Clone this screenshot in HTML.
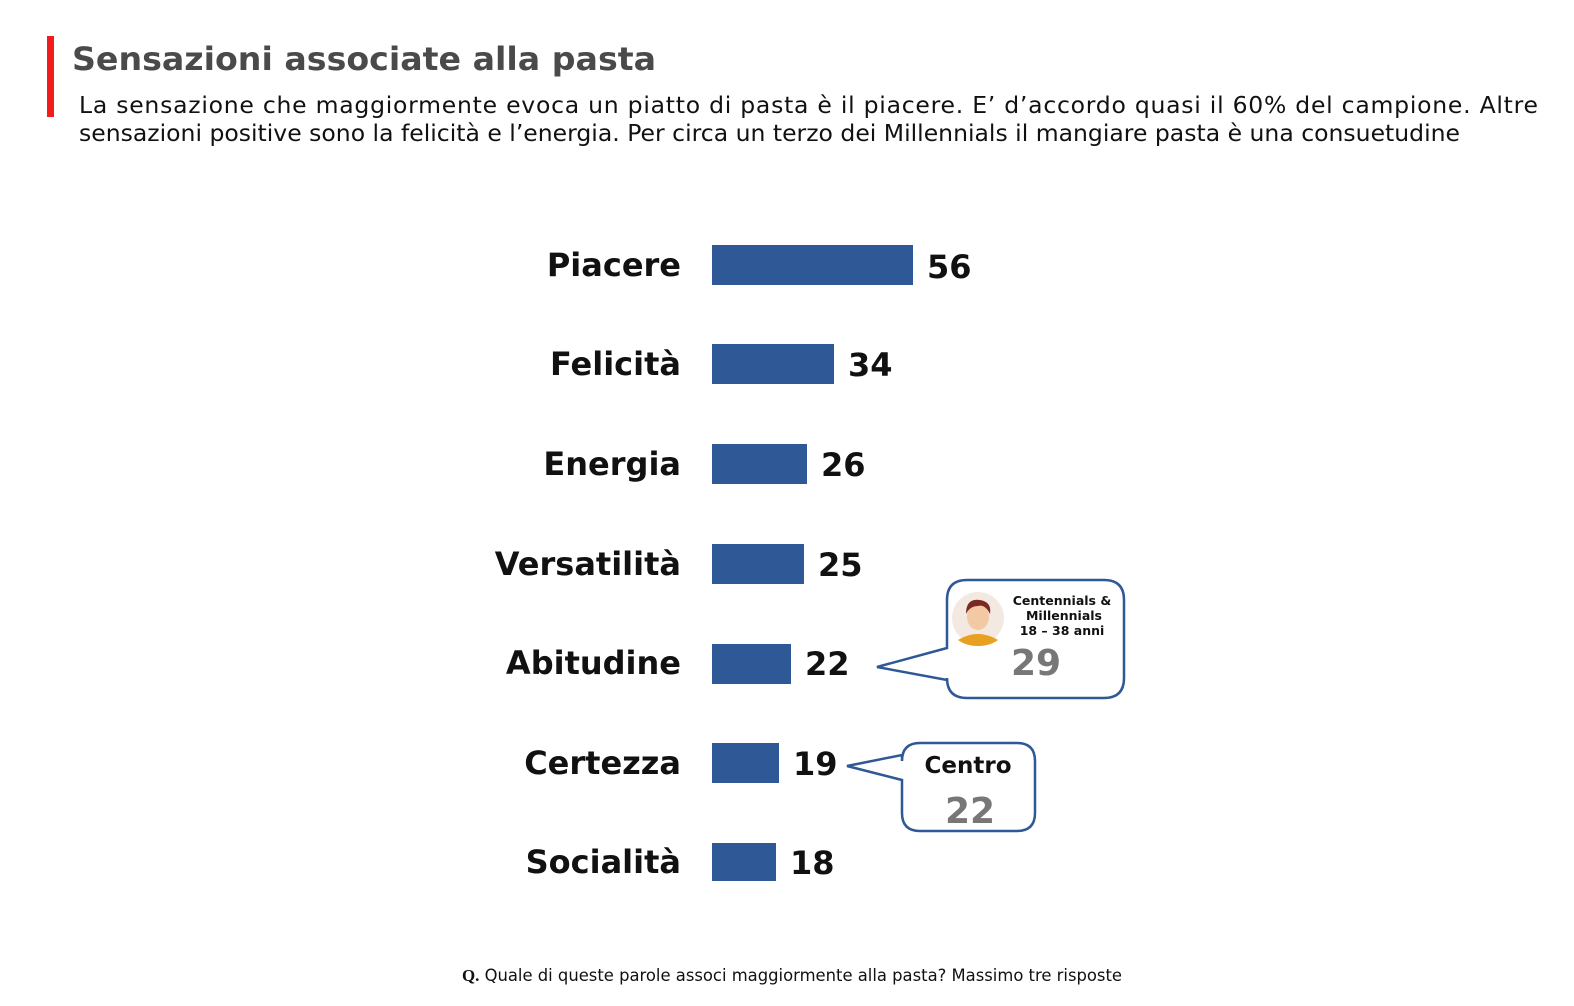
<!DOCTYPE html>
<html><head><meta charset="utf-8"><style>
body{margin:0;background:#fff;width:1574px;height:1006px;overflow:hidden}
svg{display:block}
.l{font-family:"DejaVu Sans",Verdana,sans-serif;font-weight:bold;font-size:32px;fill:#111}
</style></head><body>
<svg width="1574" height="1006" viewBox="0 0 1574 1006">
<rect x="47" y="36" width="7" height="81" fill="#f21c1c"/>
<text x="72" y="70" font-family="DejaVu Sans,Verdana,sans-serif" font-weight="bold" font-size="32" fill="#4a4a4a" textLength="584" lengthAdjust="spacingAndGlyphs">Sensazioni associate alla pasta</text>
<text x="79" y="113" font-family="DejaVu Sans,Verdana,sans-serif" font-size="23.5" fill="#111" textLength="1459" lengthAdjust="spacing">La sensazione che maggiormente evoca un piatto di pasta è il piacere. E’ d’accordo quasi il 60% del campione. Altre</text>
<text x="79" y="141" font-family="DejaVu Sans,Verdana,sans-serif" font-size="23.5" fill="#111" textLength="1381" lengthAdjust="spacingAndGlyphs">sensazioni positive sono la felicità e l’energia. Per circa un terzo dei Millennials il mangiare pasta è una consuetudine</text>
<g fill="#2f5896">
<rect x="712" y="245" width="201" height="40"/>
<rect x="712" y="344" width="122" height="40"/>
<rect x="712" y="444" width="95" height="40"/>
<rect x="712" y="544" width="92" height="40"/>
<rect x="712" y="644" width="79" height="40"/>
<rect x="712" y="743" width="67" height="40"/>
<rect x="712" y="843" width="64" height="38"/>
</g>
<g class="l" text-anchor="end">
<text class="l" x="681" y="276">Piacere</text>
<text class="l" x="681" y="375">Felicità</text>
<text class="l" x="681" y="475">Energia</text>
<text class="l" x="681" y="575">Versatilità</text>
<text class="l" x="681" y="674">Abitudine</text>
<text class="l" x="681" y="774">Certezza</text>
<text class="l" x="681" y="873">Socialità</text>
</g>
<text class="l" x="927" y="278">56</text>
<text class="l" x="848" y="376">34</text>
<text class="l" x="821" y="476">26</text>
<text class="l" x="818" y="576">25</text>
<text class="l" x="805" y="675">22</text>
<text class="l" x="793" y="775">19</text>
<text class="l" x="790" y="874">18</text>
<path d="M967 580 H1104 Q1124 580 1124 600 V678 Q1124 698 1104 698 H967 Q947 698 947 678 V680 L877 667 L947 648 V600 Q947 580 967 580 Z" fill="#fff" stroke="#2f5896" stroke-width="2.5"/>
<circle cx="978" cy="618" r="26" fill="#f3e9e0"/>
<path d="M958 640 Q978 628 998 640 Q990 646 978 646 Q966 646 958 640Z" fill="#e8a020"/>
<ellipse cx="978" cy="617" rx="11" ry="13" fill="#f2c9a3"/>
<path d="M966 614 Q966 598 980 600 Q992 602 990 614 Q985 604 978 606 Q970 606 966 614Z" fill="#7a2a22"/>
<g font-family="DejaVu Sans,Verdana,sans-serif" font-weight="bold" font-size="12.5" fill="#111" text-anchor="middle">
<text x="1062" y="605">Centennials &amp;</text>
<text x="1064" y="620">Millennials</text>
<text x="1062" y="635">18 – 38 anni</text>
</g>
<text x="1036" y="675" text-anchor="middle" font-family="DejaVu Sans,Verdana,sans-serif" font-weight="bold" font-size="36" fill="#777">29</text>
<path d="M920 743 H1017 Q1035 743 1035 761 V813 Q1035 831 1017 831 H920 Q902 831 902 813 V780 L847 766 L902 755 V761 Q902 743 920 743 Z" fill="#fff" stroke="#2f5896" stroke-width="2.5"/>
<text x="968" y="773" text-anchor="middle" font-family="DejaVu Sans,Verdana,sans-serif" font-weight="bold" font-size="23" fill="#111">Centro</text>
<text x="970" y="823" text-anchor="middle" font-family="DejaVu Sans,Verdana,sans-serif" font-weight="bold" font-size="36" fill="#777">22</text>
<text x="462" y="981" font-family="DejaVu Sans,Verdana,sans-serif" font-size="16.5" fill="#111" textLength="660" lengthAdjust="spacingAndGlyphs"><tspan font-family="Liberation Serif,serif" font-weight="bold" font-size="17">Q.</tspan> Quale di queste parole associ maggiormente alla pasta? Massimo tre risposte</text>
</svg>
</body></html>
